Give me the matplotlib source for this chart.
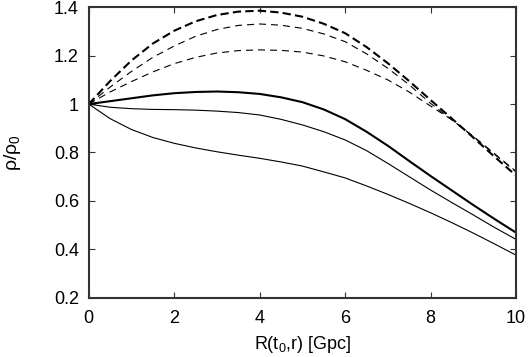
import numpy as np
import matplotlib.pyplot as plt

plt.rcParams['font.family'] = ['Liberation Sans', 'DejaVu Sans']
plt.rcParams['mathtext.default'] = 'regular'

# R(t0, r) in Gpc
R = [0, 0.5, 1, 1.5, 2, 2.5, 3, 3.5, 4, 4.5, 5, 5.5, 6, 6.5, 7, 7.5, 8, 8.5, 9, 9.5, 10]

# dashed curves
dash_thick = [1.0, 1.095, 1.18, 1.25, 1.303, 1.342, 1.368, 1.382, 1.386, 1.378, 1.361,
              1.332, 1.293, 1.236, 1.169, 1.095, 1.017, 0.94, 0.862, 0.782, 0.705]
dash_mid = [1.0, 1.07, 1.135, 1.193, 1.24, 1.28, 1.308, 1.325, 1.331, 1.326, 1.313,
            1.29, 1.258, 1.208, 1.148, 1.08, 1.003, 0.935, 0.865, 0.792, 0.72]
dash_thin = [1.0, 1.05, 1.093, 1.133, 1.167, 1.193, 1.211, 1.221, 1.224, 1.222, 1.215,
             1.199, 1.175, 1.14, 1.10, 1.05, 0.992, 0.935, 0.867, 0.795, 0.722]

# solid curves
solid_thick = [1.0, 1.012, 1.024, 1.036, 1.045, 1.05, 1.052, 1.049, 1.042, 1.028, 1.008,
               0.978, 0.938, 0.886, 0.828, 0.765, 0.703, 0.643, 0.583, 0.525, 0.469]
solid_mid = [1.0, 0.987, 0.981, 0.978, 0.977, 0.975, 0.971, 0.965, 0.955, 0.937, 0.914,
             0.886, 0.852, 0.808, 0.755, 0.70, 0.645, 0.593, 0.542, 0.49, 0.441]
solid_low = [1.0, 0.94, 0.895, 0.862, 0.838, 0.819, 0.803, 0.789, 0.776, 0.761, 0.744,
             0.72, 0.695, 0.662, 0.627, 0.59, 0.551, 0.51, 0.467, 0.422, 0.376]

fig = plt.figure(figsize=(5.29, 3.57), dpi=100)
ax = fig.add_axes([0.1677, 0.1661, 0.8077, 0.8135])

ax.plot(R, dash_thick, color='black', lw=1.5, dashes=(4, 2))
ax.plot(R, dash_mid, color='black', lw=0.8, dashes=(6.3, 4.5))
ax.plot(R, dash_thin, color='black', lw=0.8, dashes=(6.3, 4.5))
ax.plot(R, solid_thick, color='black', lw=1.5)
ax.plot(R, solid_mid, color='black', lw=0.8)
ax.plot(R, solid_low, color='black', lw=0.8)

ax.set_xlim(0, 10)
ax.set_ylim(0.2, 1.4)
ax.set_xticks([0, 2, 4, 6, 8, 10])
ax.set_yticks([0.2, 0.4, 0.6, 0.8, 1.0, 1.2, 1.4])
ax.set_yticklabels(['0.2', '0.4', '0.6', '0.8', '1', '1.2', '1.4'])
ax.tick_params(direction='in', top=True, right=True, length=4, width=0.8,
               labelsize=13, colors='#333333', labelcolor='black')
ax.tick_params(axis='x', pad=9)
ax.tick_params(axis='y', pad=7)
for s in ax.spines.values():
    s.set_linewidth(1.5)
    s.set_color('#333333')

ax.set_xlabel(r'R(t$_0$,r) [Gpc]', fontsize=13, labelpad=5)
ax.set_ylabel(r'ρ/ρ$_0$', fontsize=14, labelpad=22)

fig.savefig('out.png', dpi=100)
